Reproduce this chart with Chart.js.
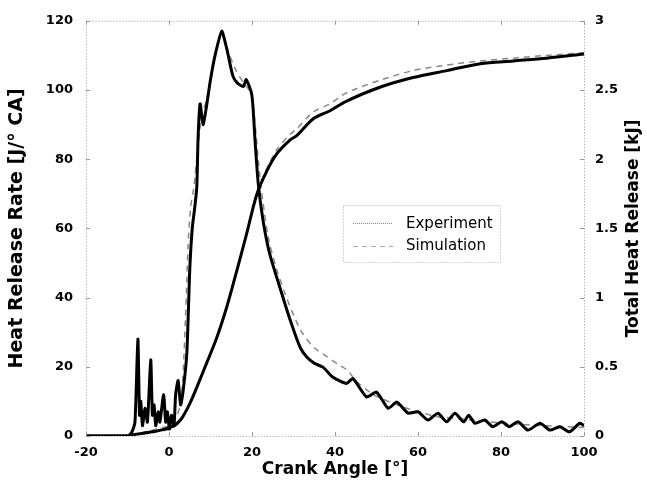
<!DOCTYPE html>
<html>
<head>
<meta charset="utf-8">
<script src="https://cdn.jsdelivr.net/npm/chart.js@4.4.0/dist/chart.umd.min.js"></script>
<style>
html, body { margin: 0; padding: 0; background: #fff; }
</style>
</head>
<body>
<canvas id="heatChart" width="647" height="488"></canvas>
<script>
// heat release rate, experiment [J/deg CA]
var expAngle = [-20, -10, -9, -8.2, -7.5, -7.1, -6.8, -6.4, -5.8, -5.2,
    -4.4, -4, -3.6, -3.2, -2.6, -2.2, -1.3, -0.8, -0.4, 0.1,
    0.6, 1.2, 1.6, 2.2, 2.8, 3.4,
    4.3, 5, 5.6, 6.2, 6.7, 7, 7.5,
    8.2, 9, 10, 11.1, 12.7, 13.9, 15.4, 16.5, 17.9, 18.6,
    19.9, 20.3, 20.7, 21.5, 22.7, 24.3, 26.7, 29.2, 31.6, 33.2,
    35, 37.1, 39.5, 42.8, 44.3, 47.6, 50, 52.8, 54.9, 57.6,
    60, 62.4, 64.8, 66.9, 68.9, 71, 72.2, 73.7, 76.1, 78,
    80.2, 82, 84.1, 86.5, 89.4, 91.8, 94.2, 96.5, 99, 100];
var expHrr = [0, 0, 1, 4, 28, 6, 10, 3, 8, 4,
    22, 6, 9, 3, 7, 4, 12, 4, 7, 2,
    6, 3, 12, 16, 9, 13,
    24, 48, 60, 66, 72, 86, 96,
    90, 95, 103, 110, 117, 112, 104, 102, 101, 103,
    99, 94, 86, 73, 62, 52.5, 43, 33.5, 25.6, 22.8,
    21, 19.9, 17, 15.2, 16.6, 11.3, 12.7, 8, 9.8, 6.6,
    7, 4.6, 6.6, 4.1, 6.6, 4.1, 6, 3.7, 4.6, 2.7,
    4.1, 2.7, 4.1, 1.7, 3.7, 1.7, 2.7, 1.2, 3.7, 3];

// heat release rate, simulation
var simAngle = [-20, -10, -6, -3, 0, 1.5, 2.5, 3.2, 4, 4.6,
    5.2, 6, 7, 8, 9, 10, 11, 12, 12.8, 14,
    16, 18, 19.8, 20.6, 21.5, 22.5, 24, 26, 28, 30,
    32, 35, 38, 41, 43, 45, 48, 50, 55, 60,
    65, 70, 80, 90, 100];
var simHrr = [0, 0, 1, 2, 3, 5, 8, 14, 35, 55,
    66, 72, 84, 93, 97, 103, 109, 114, 116, 112,
    106, 102, 99, 92, 80, 69, 57, 48, 41, 35,
    30, 25.5, 23, 20.5, 19, 16, 13, 11.5, 9, 7,
    5.5, 5, 3.8, 3, 2.5];

// total heat release [kJ]
var totAngle = [-20, -10, -8.6, -4, 0.2, 2.6, 5.1, 8.3, 11.5, 13.9,
    16.3, 18.7, 21.1, 23.5, 26, 29.2, 30.8, 34.7, 38.8, 42.8,
    50.8, 58.8, 66.9, 75, 83, 91, 100];
var expTotal = [0, 0, 0.01, 0.03, 0.06, 0.11, 0.24, 0.47, 0.71, 0.93,
    1.19, 1.46, 1.74, 1.91, 2.04, 2.14, 2.17, 2.29, 2.35, 2.42,
    2.52, 2.59, 2.64, 2.69, 2.71, 2.73, 2.76];
var simTotal = [0, 0, 0.01, 0.03, 0.05, 0.1, 0.23, 0.47, 0.71, 0.94,
    1.2, 1.47, 1.75, 1.93, 2.07, 2.18, 2.22, 2.34, 2.4, 2.48,
    2.57, 2.64, 2.68, 2.71, 2.73, 2.75, 2.77];

var legendLabels = ['Experiment', 'Simulation'];

function pairs(xs, ys) {
    return xs.map((x, i) => ({ x: x, y: ys[i] }));
}

const tickFont = { family: 'DejaVu Sans', weight: 'bold', size: 13 };
const titleFont = { family: 'DejaVu Sans', weight: 'bold', size: 17 };

// dotted frame with inward ticks, right axis title and the boxed legend
const framePlugin = {
    id: 'frame',
    afterDraw(chart) {
        const c = chart.ctx;
        const a = chart.chartArea;
        const sx = chart.scales.x, sy = chart.scales.y, sy2 = chart.scales.y2;
        c.save();
        c.strokeStyle = '#999';
        c.lineWidth = 1;
        c.setLineDash([1, 2]);
        c.strokeRect(a.left + 0.5, a.top + 0.5, a.right - a.left, a.bottom - a.top);
        c.setLineDash([]);
        c.beginPath();
        for (let v = -20; v <= 100; v += 20) {
            const px = Math.round(sx.getPixelForValue(v)) + 0.5;
            c.moveTo(px, a.bottom); c.lineTo(px, a.bottom - 4);
            c.moveTo(px, a.top); c.lineTo(px, a.top + 4);
        }
        for (let v = 0; v <= 120; v += 20) {
            const py = Math.round(sy.getPixelForValue(v)) + 0.5;
            c.moveTo(a.left, py); c.lineTo(a.left + 4, py);
        }
        for (let v = 0; v <= 3; v += 0.5) {
            const py = Math.round(sy2.getPixelForValue(v)) + 0.5;
            c.moveTo(a.right, py); c.lineTo(a.right - 4, py);
        }
        c.stroke();

        // right axis title, reading bottom to top like the left one
        c.fillStyle = '#000';
        c.font = 'bold 17px "DejaVu Sans"';
        c.textAlign = 'center';
        c.textBaseline = 'middle';
        c.translate(634, (a.top + a.bottom) / 2);
        c.rotate(-Math.PI / 2);
        c.fillText('Total Heat Release [kJ]', 0, 0);
        c.restore();

        // legend
        c.save();
        c.strokeStyle = '#aaa';
        c.setLineDash([1, 2]);
        c.strokeRect(343.5, 205.5, 157, 57);
        c.setLineDash([1, 1]);
        c.strokeStyle = '#888';
        c.beginPath(); c.moveTo(353, 223.5); c.lineTo(393, 223.5); c.stroke();
        c.setLineDash([5, 4]);
        c.strokeStyle = '#aaa';
        c.beginPath(); c.moveTo(353, 246.5); c.lineTo(393, 246.5); c.stroke();
        c.fillStyle = '#000';
        c.font = '15px "DejaVu Sans"';
        c.textBaseline = 'middle';
        c.fillText(legendLabels[0], 406, 224);
        c.fillText(legendLabels[1], 406, 246);
        c.restore();
    }
};

const ctx = document.getElementById('heatChart').getContext('2d');
const heatChart = new Chart(ctx, {
    type: 'line',
    data: {
        datasets: [{
            label: legendLabels[0],
            data: pairs(expAngle, expHrr),
            yAxisID: 'y',
            borderColor: '#000',
            borderWidth: 3,
            tension: 0.2
        }, {
            label: legendLabels[0] + ' total',
            data: pairs(totAngle, expTotal),
            yAxisID: 'y2',
            borderColor: '#000',
            borderWidth: 3,
            tension: 0.3
        }, {
            label: legendLabels[1],
            data: pairs(simAngle, simHrr),
            yAxisID: 'y',
            borderColor: '#888',
            borderWidth: 1.5,
            borderDash: [6, 5],
            tension: 0.3
        }, {
            label: legendLabels[1] + ' total',
            data: pairs(totAngle, simTotal),
            yAxisID: 'y2',
            borderColor: '#888',
            borderWidth: 1.5,
            borderDash: [6, 5],
            tension: 0.3
        }]
    },
    options: {
        responsive: false,
        animation: false,
        devicePixelRatio: 1,
        layout: { padding: { top: 18, left: 0, right: 0, bottom: 0 } },
        elements: { point: { radius: 0 } },
        plugins: {
            legend: { display: false },
            tooltip: { enabled: false }
        },
        scales: {
            x: {
                type: 'linear',
                min: -20,
                max: 100,
                ticks: { stepSize: 20, color: '#000', font: tickFont, padding: 9 },
                grid: { display: false, drawTicks: false },
                border: { display: false },
                title: { display: true, text: 'Crank Angle [°]', color: '#000', font: titleFont, padding: { top: 0, bottom: 8 } },
                afterFit: (scale) => { scale.height = 52; }
            },
            y: {
                position: 'left',
                min: 0,
                max: 120,
                ticks: { stepSize: 20, color: '#000', font: tickFont, padding: 13 },
                grid: { display: false, drawTicks: false },
                border: { display: false },
                title: { display: true, text: 'Heat Release Rate [J/° CA]', color: '#000', font: { family: 'DejaVu Sans', weight: 'bold', size: 19 }, padding: { top: 6, bottom: 0 } },
                afterFit: (scale) => { scale.width = 86; }
            },
            y2: {
                position: 'right',
                min: 0,
                max: 3,
                ticks: { stepSize: 0.5, color: '#000', font: tickFont, padding: 11, callback: (v) => String(v) },
                grid: { display: false, drawTicks: false },
                border: { display: false },
                afterFit: (scale) => { scale.width = 63; }
            }
        }
    },
    plugins: [framePlugin]
});
</script>
</body>
</html>
